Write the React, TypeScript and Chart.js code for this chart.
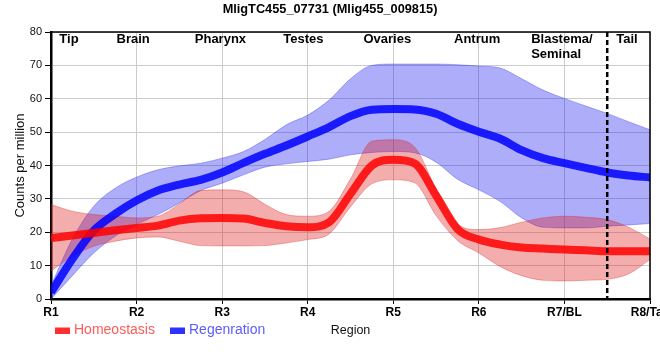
import React, { useEffect, useRef } from 'react';
import { Chart, registerables } from 'chart.js';

Chart.register(...registerables);

const TITLE = 'MligTC455_07731 (Mlig455_009815)';
const X_TITLE = 'Region';
const Y_TITLE = 'Counts per million';
const REGION_TICKS = ['R1', 'R2', 'R3', 'R4', 'R5', 'R6', 'R7/BL', 'R8/Tail'];
const TISSUES = ['Tip', 'Brain', 'Pharynx', 'Testes', 'Ovaries', 'Antrum', 'Blastema/\nSeminal', 'Tail'];
const TISSUE_AT = [1.21, 1.96, 2.98, 3.95, 4.93, 5.98, 6.97, 7.73];
const DIVIDER_AT = 7.5;

const X_POS = [1, 1.25, 1.5, 1.75, 2, 2.25, 2.5, 2.75, 3, 3.25, 3.5, 3.75, 4, 4.25, 4.5, 4.75, 5, 5.25, 5.5, 5.75, 6, 6.25, 6.5, 6.75, 7, 7.25, 7.5, 7.75, 8];

const REGEN_MEAN = [2, 12, 20.5, 25.5, 29.5, 32.5, 34.3, 35.7, 37.9, 40.8, 43.5, 46, 48.7, 51.5, 54.8, 56.7, 56.9, 56.8, 55.5, 52.5, 50.1, 48, 44.6, 42.2, 40.7, 39.3, 37.9, 37, 36.4];
const REGEN_HIGH = [4, 18, 27.8, 33.2, 36.5, 38.7, 39.9, 40.7, 42.2, 44.2, 47.8, 52.2, 55.1, 59.6, 66, 70, 70.4, 70.4, 70.4, 70.2, 69.8, 69.2, 66, 62.6, 60.1, 57.8, 55.6, 53.1, 50.7];
const REGEN_LOW = [0, 7, 13.8, 18.8, 22.3, 25.3, 28.8, 32.5, 34.7, 37.2, 39.5, 40.5, 41.2, 41.9, 43.2, 43.9, 44.2, 43.8, 41, 35.9, 32.7, 29.2, 24.3, 21.5, 21.3, 21.3, 21.8, 22.2, 22.6];

const HOMEO_MEAN = [18.3, 19, 19.8, 20.6, 21.3, 22, 23.5, 24.2, 24.3, 24.1, 22.8, 21.8, 21.5, 23, 31.5, 40, 41.7, 40.6, 31, 21, 17.8, 16.3, 15.4, 15.1, 14.8, 14.6, 14.3, 14.3, 14.3];
const HOMEO_HIGH = [28.3, 26.3, 25.3, 24.8, 24.3, 24.8, 28.5, 32.5, 32.7, 32.1, 28.4, 25.3, 24.8, 26.3, 36, 47.3, 47.7, 45.5, 33, 22.5, 20.8, 21.4, 23, 24.3, 24.8, 24.5, 23.8, 21.5, 18];
const HOMEO_LOW = [8.4, 12.8, 15.8, 17.3, 18.3, 18.6, 17.3, 16, 15.9, 15.9, 16, 16.8, 17.8, 19.5, 27.6, 34.5, 35.7, 34.8, 25, 17.5, 13.8, 9.7, 7, 5.6, 5.4, 5.6, 5.9, 7.5, 11.8];

const FONT = '"Liberation Sans", Arial, sans-serif';

const overlay = {
  id: 'overlay',
  afterDatasetsDraw(chart: any) {
    const { ctx, chartArea: a, scales } = chart;
    const x = scales.x;
    ctx.save();
    const dx = x.getPixelForValue(DIVIDER_AT);
    ctx.strokeStyle = '#000';
    ctx.lineWidth = 2.5;
    ctx.setLineDash([5, 3]);
    ctx.beginPath();
    ctx.moveTo(dx, a.top);
    ctx.lineTo(dx, a.bottom);
    ctx.stroke();
    ctx.setLineDash([]);
    ctx.lineWidth = 1.5;
    ctx.beginPath();
    ctx.moveTo(a.left, a.top);
    ctx.lineTo(a.right, a.top);
    ctx.lineTo(a.right, a.bottom);
    ctx.stroke();
    ctx.restore();
  },
  afterDraw(chart: any) {
    const { ctx, chartArea: a, scales } = chart;
    const x = scales.x;
    ctx.save();
    ctx.fillStyle = '#000';
    ctx.textBaseline = 'middle';
    // title
    ctx.font = `bold 12.75px ${FONT}`;
    ctx.textAlign = 'center';
    ctx.fillText(TITLE, 330, 9.5);
    // tissue labels
    ctx.font = `bold 13px ${FONT}`;
    TISSUES.forEach((t, i) => {
      const lines = t.split('\n');
      const cx = x.getPixelForValue(TISSUE_AT[i]);
      if (lines.length === 1) {
        ctx.textAlign = 'center';
        ctx.fillText(t, cx, 39.5);
      } else {
        ctx.textAlign = 'left';
        const w = ctx.measureText(lines[0]).width;
        lines.forEach((l, j) => ctx.fillText(l, cx - w / 2, 39.5 + j * 14.5));
      }
    });
    // x tick labels
    ctx.font = `bold 12px ${FONT}`;
    ctx.textAlign = 'center';
    REGION_TICKS.forEach((t, i) => {
      ctx.fillText(t, x.getPixelForValue(i + 1), 312.5);
    });
    // x title
    ctx.font = `12.5px ${FONT}`;
    ctx.fillStyle = '#111';
    ctx.fillText(X_TITLE, (a.left + a.right) / 2, 331);
    // y title
    ctx.save();
    ctx.translate(20, (a.top + a.bottom) / 2);
    ctx.rotate(-Math.PI / 2);
    ctx.font = `13px ${FONT}`;
    ctx.fillText(Y_TITLE, 0, 0);
    ctx.restore();
    // legend
    ctx.textAlign = 'left';
    ctx.font = `14px ${FONT}`;
    ctx.fillStyle = '#ff3030';
    ctx.fillRect(55, 327.5, 15, 6.5);
    ctx.fillStyle = '#ff5a5a';
    ctx.fillText('Homeostasis', 74, 330.5);
    ctx.fillStyle = '#3030ff';
    ctx.fillRect(170, 327.5, 15, 6.5);
    ctx.fillStyle = '#5c5cff';
    ctx.fillText('Regenration', 189, 330.5);
    ctx.restore();
  },
};

export default function App() {
  const ref = useRef<HTMLCanvasElement>(null);
  useEffect(() => {
    const canvas = ref.current!;
    const pts = (ys: number[]) => X_POS.map((x, i) => ({ x, y: ys[i] }));
    const chart = new Chart(canvas, {
      type: 'line',
      data: {
        datasets: [
          { label: 'Homeostasis', data: pts(HOMEO_MEAN), borderColor: 'rgba(255,0,0,0.85)', borderWidth: 8, fill: false, order: 0 },
          { label: 'Regenration', data: pts(REGEN_MEAN), borderColor: 'rgba(0,0,255,0.85)', borderWidth: 8, fill: false, order: 1 },
          { label: 'Homeostasis high', data: pts(HOMEO_HIGH), borderColor: 'rgba(220,20,20,0.3)', borderWidth: 1, backgroundColor: 'rgba(220,20,20,0.35)', fill: '+1', order: 2 },
          { label: 'Homeostasis low', data: pts(HOMEO_LOW), borderColor: 'rgba(220,20,20,0.3)', borderWidth: 1, fill: false, order: 3 },
          { label: 'Regenration high', data: pts(REGEN_HIGH), borderColor: 'rgba(20,20,240,0.3)', borderWidth: 1, backgroundColor: 'rgba(20,20,240,0.35)', fill: '+1', order: 4 },
          { label: 'Regenration low', data: pts(REGEN_LOW), borderColor: 'rgba(20,20,240,0.3)', borderWidth: 1, fill: false, order: 5 },
        ] as any,
      },
      options: {
        animation: false,
        responsive: false,
        layout: { padding: { top: 32, right: 10, left: 0, bottom: 0 } },
        plugins: { legend: { display: false }, title: { display: false }, tooltip: { enabled: false } },
        elements: { point: { radius: 0 }, line: { cubicInterpolationMode: 'monotone' } },
        scales: {
          x: {
            type: 'linear', min: 1, max: 8,
            ticks: { stepSize: 1, display: false },
            grid: { color: '#cccccc', tickColor: '#000', tickLength: 5, lineWidth: 1 },
            border: { color: '#000', width: 2.5 },
            afterFit: (s: any) => { s.height = 61; },
          },
          y: {
            min: 0, max: 80,
            ticks: { stepSize: 10, color: '#111', font: { family: FONT, size: 11 }, padding: 3 },
            grid: { color: '#cccccc', tickColor: '#000', tickLength: 6, lineWidth: 1 },
            border: { color: '#000', width: 2.5 },
            afterFit: (s: any) => { s.width = 51; },
          },
        },
      } as any,
      plugins: [overlay],
    });
    return () => chart.destroy();
  }, []);
  return (
    <div style={{ position: 'fixed', left: 0, top: 0, width: 660, height: 360, background: '#fff' }}>
      <canvas ref={ref} width={660} height={360} style={{ display: 'block' }} />
    </div>
  );
}
